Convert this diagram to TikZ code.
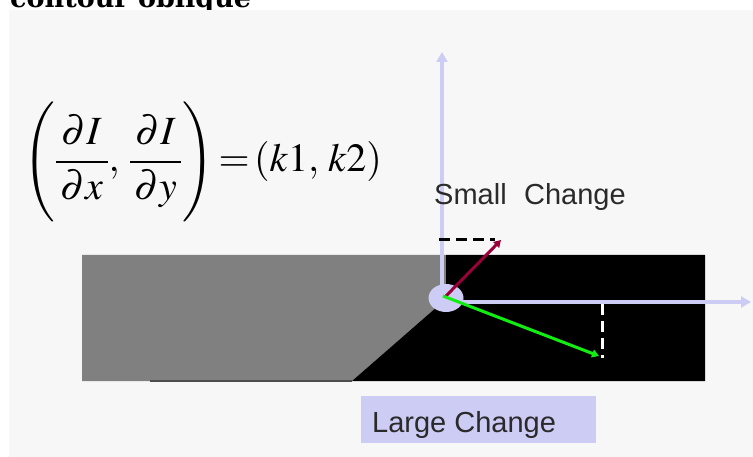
\documentclass[tikz,border=0pt]{standalone}
\usepackage{amsmath}
\usepackage[no-math]{fontspec}
\usepackage{mathptmx}
\setsansfont{Liberation Sans}
\newfontfamily\titlefont{DejaVu Serif}
\usetikzlibrary{arrows.meta,shapes.geometric}
\definecolor{bgc}{HTML}{F7F7F7}
\definecolor{lav}{HTML}{CCCCF5}
\definecolor{maroonc}{HTML}{99003A}
\definecolor{grn}{HTML}{11EE11}
\definecolor{midgray}{HTML}{808080}
\definecolor{txtc}{HTML}{2A2A2A}
\tikzset{
  axisline/.style={draw=lav, line width=4pt, -{Triangle[length=10pt,width=11pt]}},
  vec/.style={line width=3pt, -{Triangle[length=7pt,width=8pt]}},
  dashline/.style={line width=3pt, dash pattern=on 11pt off 6pt},
  label/.style={font=\sffamily\fontsize{29}{33}\selectfont, text=txtc, inner sep=0pt},
}
\begin{document}
\begin{tikzpicture}[x=1pt,y=-1pt]
\useasboundingbox (0,0) rectangle (753,457);
\clip (0,0) rectangle (753,457);
\fill[white] (0,0) rectangle (753,457);
\node[anchor=base west, inner sep=0pt, font=\titlefont\bfseries\fontsize{27}{30}\selectfont] (title) at (10,8) {contour oblique};
\fill[bgc] (9,10) rectangle (753,457);
% equation
\node[anchor=west, inner sep=0pt, font=\fontsize{40}{48}\selectfont] (eq) at (23,163)
  {$\left(\vphantom{\rule[-52pt]{0pt}{112pt}}\dfrac{\partial I}{\,\partial x\,},\,\dfrac{\partial I}{\,\partial y\,}\right)\mkern-2mu=\mkern-2mu(k1,\,k2)$};
% edge regions
\fill[midgray] (82,255) -- (446,255) -- (446,299) -- (352,381) -- (82,381) -- cycle;
\fill[black] (446,255) -- (705,255) -- (705,381) -- (352,381) -- (446,299) -- cycle;
\draw[black!70, line width=2pt] (150,381) -- (352,381);
% axes
\node[ellipse, fill=lav, minimum width=35pt, minimum height=28pt, inner sep=0pt] (circ) at (446,298) {};
\coordinate (vbase) at (442,290);
\coordinate (ytip) at (442,52);
\coordinate (hbase) at (458,302);
\coordinate (xtip) at (751,302);
\draw[axisline] (vbase) -- (ytip);
\draw[axisline] (hbase) -- (xtip);
% vectors
\coordinate (rs) at (445,297);
\coordinate (rt) at (501,240);
\coordinate (gs) at (443,296);
\coordinate (gt) at (599,356);
\coordinate (dl) at (439,240);
\coordinate (dr) at (495,240);
\coordinate (wt) at (602,304);
\coordinate (wb) at (602,358);
\draw[dashline, black] (dl) -- (dr);
\draw[dashline, white] (wt) -- (wb);
\draw[vec, maroonc] (rs) -- (rt);
\draw[vec, grn] (gs) -- (gt);
% labels
\node[label, anchor=base west] (small) at (434,205) {Small\hspace{0.6em}Change};
\node[fill=lav, anchor=north west, minimum width=235pt, minimum height=47pt, inner sep=0pt] (largebox) at (361,396) {};
\node[label, anchor=base west] (large) at (372,432) {Large Change};
\end{tikzpicture}
\end{document}
